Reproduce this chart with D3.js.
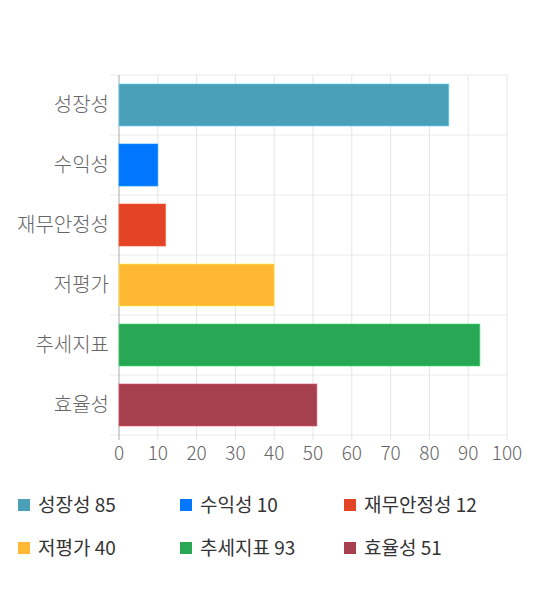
<!DOCTYPE html>
<html><head><meta charset="utf-8">
<script src="https://cdn.jsdelivr.net/npm/d3@7/dist/d3.min.js"></script>
<style>body{margin:0;background:#fff;}svg{display:block;font-family:"Noto Sans CJK KR","Noto Sans",sans-serif;}</style>
</head><body>
<svg id="c" width="540" height="590"></svg>
<script>
const categories = ["성장성","수익성","재무안정성","저평가","추세지표","효율성"];
const values = [85,10,12,40,93,51];
const colors = ["#4aa0b9","#0077fe","#e24425","#feb833","#28a854","#a6404e"];
const xTicks = [0,10,20,30,40,50,60,70,80,90,100];

const svg = d3.select("#c");
const m = {l:119, r:33, t:75, b:155};
const W = 540, H = 590;
const x = d3.scaleLinear().domain([0,100]).range([m.l, W-m.r]);
const y = d3.scaleBand().domain(categories).range([m.t, H-m.b]).paddingInner(0.3).paddingOuter(0.15);

// horizontal grid (band boundaries)
const bounds = categories.map(c => y(c) - y.step()*y.paddingInner()/2);
bounds.push(H-m.b);
svg.append("g").selectAll("line").data(bounds).join("line")
  .attr("x1", m.l-9).attr("x2", x(100)).attr("y1", d=>d).attr("y2", d=>d)
  .attr("stroke", "#ebebeb").attr("stroke-width",1);
// vertical grid
svg.append("g").selectAll("line").data(xTicks).join("line")
  .attr("x1", d=>x(d)).attr("x2", d=>x(d)).attr("y1", m.t).attr("y2", H-m.b+5)
  .attr("stroke", d=> d===0 ? "#aaaaaa" : "#e6e6e6").attr("stroke-width",1);

// bars
svg.append("g").selectAll("rect").data(categories).join("rect")
  .attr("x", x(0)).attr("y", c=>y(c))
  .attr("width", (c,i)=>x(values[i])-x(0)).attr("height", y.bandwidth())
  .attr("fill", (c,i)=>colors[i])
  .attr("stroke", (c,i)=>d3.color(colors[i]).brighter(0.8)).attr("stroke-width",1).attr("stroke-opacity",0.6);

// y labels
svg.append("g").selectAll("text").data(categories).join("text")
  .attr("x", m.l-10).attr("y", c=>y(c)+y.bandwidth()/2).attr("dy","0.35em")
  .attr("text-anchor","end").attr("fill","#666").attr("font-size",20).attr("font-weight",300).text(c=>c);

// x labels
svg.append("g").selectAll("text").data(xTicks).join("text")
  .attr("x", d=>x(d)).attr("y", H-m.b+18).attr("dy","0.35em")
  .attr("text-anchor","middle").attr("fill","#666").attr("font-size",19).attr("font-weight",300).text(d=>d);

// legend
const lg = svg.append("g").selectAll("g").data(categories).join("g")
  .attr("transform",(c,i)=>`translate(${[18,180,344][i%3]},${[505,548][Math.floor(i/3)]})`);
lg.append("rect").attr("x",0).attr("y",-6).attr("width",12).attr("height",12).attr("fill",(c,i)=>colors[i]);
lg.append("text").attr("x",20).attr("y",0).attr("dy","0.35em").attr("font-size",19).attr("fill","#333")
  .text((c,i)=>c+" "+values[i]);
</script>
</body></html>
